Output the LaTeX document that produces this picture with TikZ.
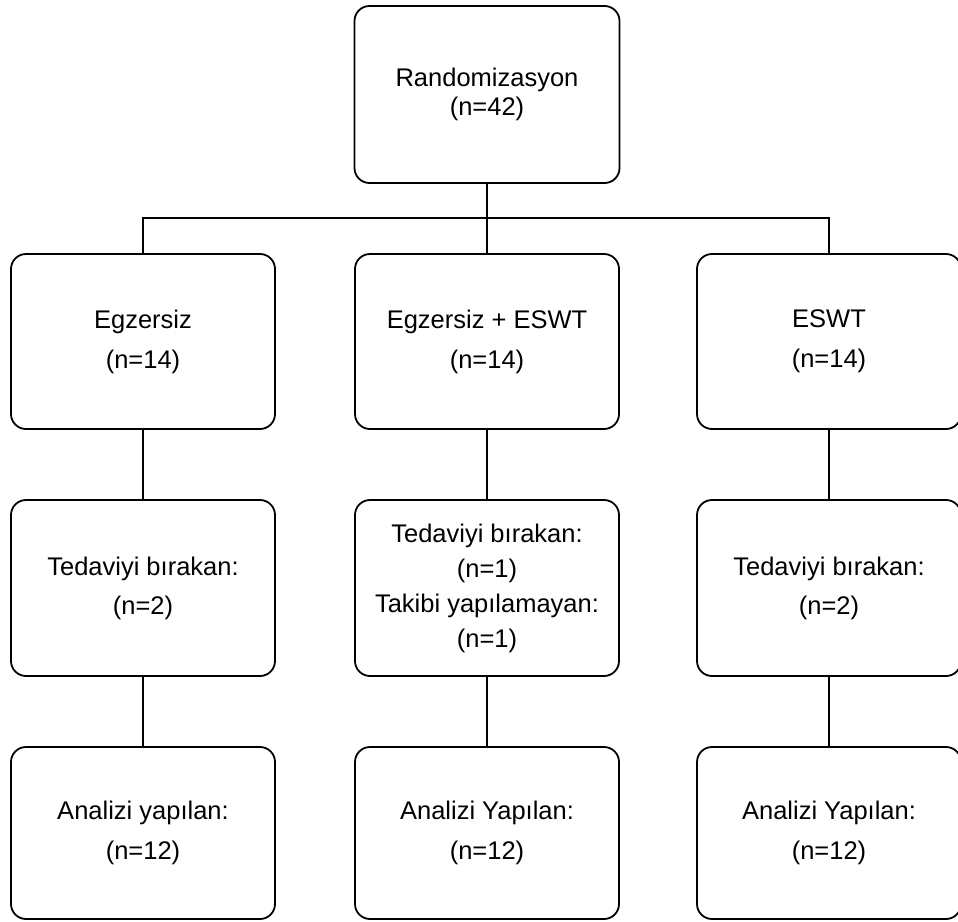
\documentclass[tikz,border=0pt]{standalone}
\usepackage{fontspec}
\setmainfont{Liberation Sans}
\begin{document}
\begin{tikzpicture}[x=1pt,y=-1pt,
  box/.style={draw=black, line width=1.8pt, rounded corners=15pt, minimum width=264pt, minimum height=176pt, align=center, inner sep=0pt, font=\fontsize{25.5}{40}\selectfont},
  link/.style={draw=black, line width=1.8pt}]
\useasboundingbox (0,0) rectangle (958,921);
\node[box, minimum width=265pt, minimum height=177pt, font=\fontsize{25.5}{29}\selectfont] (top) at (487,94.5) {Randomizasyon\\(n=42)};
\node[box, minimum height=175pt] (a2) at (143,341.5) {Egzersiz\\(n=14)};
\node[box, minimum height=175pt] (b2) at (487,341.5) {Egzersiz + ESWT\\(n=14)};
\node[box, minimum height=175pt] (c2) at (829,341.5) {ESWT\\(n=14)};
\node[box, font=\fontsize{25.5}{39}\selectfont] (a3) at (143,588) {Tedaviyi bırakan:\\(n=2)};
\node[box, font=\fontsize{25.5}{35}\selectfont] (b3) at (487,588) {Tedaviyi bırakan:\\(n=1)\\Takibi yapılamayan:\\(n=1)};
\node[box, font=\fontsize{25.5}{39}\selectfont] (c3) at (829,588) {Tedaviyi bırakan:\\(n=2)};
\node[box, minimum height=172pt] (a4) at (143,833) {Analizi yapılan:\\(n=12)};
\node[box, minimum height=172pt] (b4) at (487,833) {Analizi Yapılan:\\(n=12)};
\node[box, minimum height=172pt] (c4) at (829,833) {Analizi Yapılan:\\(n=12)};
\coordinate (j) at (487,218);
\draw[link] (top.south) -- (j);
\draw[link] (a2.north) |- (j) -| (c2.north);
\draw[link] (j) -- (b2.north);
\draw[link] (a2) -- (a3);
\draw[link] (b2) -- (b3);
\draw[link] (c2) -- (c3);
\draw[link] (a3) -- (a4);
\draw[link] (b3) -- (b4);
\draw[link] (c3) -- (c4);
\end{tikzpicture}
\end{document}
